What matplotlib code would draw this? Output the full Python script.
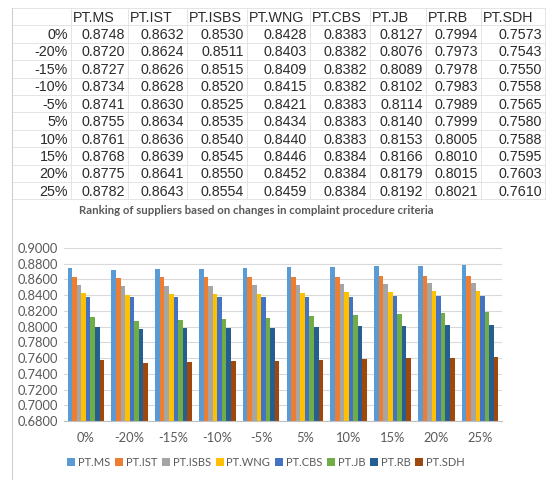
import matplotlib.pyplot as plt
from matplotlib.lines import Line2D
import numpy as np

W, H = 548, 480

suppliers = ["PT.MS", "PT.IST", "PT.ISBS", "PT.WNG", "PT.CBS", "PT.JB", "PT.RB", "PT.SDH"]
changes = ["0%", "-20%", "-15%", "-10%", "-5%", "5%", "10%", "15%", "20%", "25%"]

pt_ms = [0.8748, 0.8720, 0.8727, 0.8734, 0.8741, 0.8755, 0.8761, 0.8768, 0.8775, 0.8782]
pt_ist = [0.8632, 0.8624, 0.8626, 0.8628, 0.8630, 0.8634, 0.8636, 0.8639, 0.8641, 0.8643]
pt_isbs = [0.8530, 0.8511, 0.8515, 0.8520, 0.8525, 0.8535, 0.8540, 0.8545, 0.8550, 0.8554]
pt_wng = [0.8428, 0.8403, 0.8409, 0.8415, 0.8421, 0.8434, 0.8440, 0.8446, 0.8452, 0.8459]
pt_cbs = [0.8383, 0.8382, 0.8382, 0.8382, 0.8383, 0.8383, 0.8383, 0.8384, 0.8384, 0.8384]
pt_jb = [0.8127, 0.8076, 0.8089, 0.8102, 0.8114, 0.8140, 0.8153, 0.8166, 0.8179, 0.8192]
pt_rb = [0.7994, 0.7973, 0.7978, 0.7983, 0.7989, 0.7999, 0.8005, 0.8010, 0.8015, 0.8021]
pt_sdh = [0.7573, 0.7543, 0.7550, 0.7558, 0.7565, 0.7580, 0.7588, 0.7595, 0.7603, 0.7610]

series = [pt_ms, pt_ist, pt_isbs, pt_wng, pt_cbs, pt_jb, pt_rb, pt_sdh]
colors = ["#5B9BD5", "#ED7D31", "#A5A5A5", "#FFC000", "#4472C4", "#70AD47", "#255E91", "#9E480E"]


def fx(x):
    return x / W


def fy(y):
    return 1 - y / H


fig = plt.figure(figsize=(W / 100, H / 100), dpi=100)
fig.patch.set_facecolor("white")

# --- spreadsheet table above the chart ---
col_edges = [12, 71, 128, 187, 247, 310, 370, 426, 481, 545]
row_top = 8
row_h = 17.4
n_rows = len(changes) + 1
grid_c = "#E4E4E4"

for i in range(n_rows + 1):
    y = row_top + i * row_h
    fig.add_artist(Line2D([fx(12), fx(545)], [fy(y), fy(y)], color=grid_c, lw=0.7))
for x in col_edges:
    fig.add_artist(Line2D([fx(x), fx(x)], [fy(row_top), fy(row_top + n_rows * row_h)],
                          color=grid_c, lw=0.7))

tfont = dict(family="Liberation Sans", fontsize=10.3, color="#2b2b2b", va="center")
for j, name in enumerate(suppliers):
    fig.text(fx(col_edges[j + 1] + 2), fy(row_top + row_h / 2 + 1), name, ha="left", **tfont)
for i, lab in enumerate(changes):
    yc = fy(row_top + (i + 1.5) * row_h + 1)
    fig.text(fx(col_edges[1] - 3), yc, lab, ha="right", **tfont)
    for j, vals in enumerate(series):
        fig.text(fx(col_edges[j + 2] - 3), yc, f"{vals[i]:.4f}", ha="right", **tfont)

# chart area border on the left
fig.add_artist(Line2D([fx(12), fx(12)], [fy(row_top), 0], color="#D0D0D0", lw=0.8))

fig.text(fx(256), fy(210), "Ranking of suppliers based on changes in complaint procedure criteria",
         ha="center", va="center", family="Lato", fontweight="bold", fontsize=8.2, color="#595959")

# --- clustered bar chart ---
ax = fig.add_axes([fx(64), fy(421), fx(502 - 64), (421 - 248) / H])
x = np.arange(len(changes))
group_w = 0.84
bw = group_w / len(series)
for k, (name, vals, c) in enumerate(zip(suppliers, series, colors)):
    ax.bar(x - group_w / 2 + bw * (k + 0.5), vals, width=bw, color=c, label=name, zorder=2)

ax.set_ylim(0.68, 0.90)
ax.set_xlim(-0.5, len(changes) - 0.5)
ax.set_yticks(np.arange(0.68, 0.9001, 0.02))
ax.yaxis.set_major_formatter(plt.FuncFormatter(lambda v, p: f"{v:.4f}"))
ax.set_xticks(x)
ax.set_xticklabels(changes)
ax.grid(axis="y", color="#D9D9D9", lw=0.8, zorder=0)
for s in ["top", "left", "right"]:
    ax.spines[s].set_visible(False)
ax.spines["bottom"].set_color("#BFBFBF")
ax.tick_params(length=0, labelsize=9.3, colors="#595959", pad=8)
ax.tick_params(axis="y", pad=4)
for t in ax.get_xticklabels() + ax.get_yticklabels():
    t.set_family("Lato")

ax.legend(loc="center", bbox_to_anchor=(fx(266), fy(462)), bbox_transform=fig.transFigure,
          ncol=8, frameon=False, handlelength=0.7, handleheight=0.7, handletextpad=0.25,
          columnspacing=0.45, prop={"family": "Lato", "size": 8.0}, labelcolor="#595959")

fig.savefig("out.png", dpi=100)
